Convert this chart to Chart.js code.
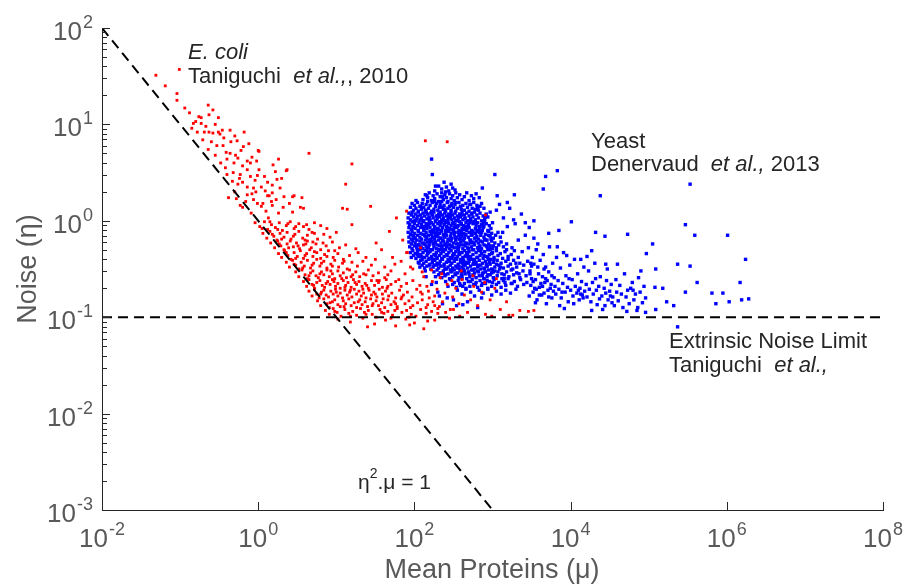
<!DOCTYPE html>
<html>
<head>
<meta charset="utf-8">
<script src="https://cdn.jsdelivr.net/npm/chart.js@4.4.1/dist/chart.umd.min.js"></script>
<style>
  html, body { margin: 0; padding: 0; background: #fff; }
  #wrap { width: 917px; height: 588px; }
</style>
</head>
<body>
<div id="wrap"><canvas id="noiseChart" width="917" height="588"></canvas></div>
<script>
// points, stored as [100*log10(mean), 100*log10(noise)]
const ecoliLog = [
  // sparse upper band
  [-131,151],[-101,157],[-119,140],[-104,132],[-104,125],[-94,117],[-64,120],[-63,110],[-76,108],[-73,107],
  [-83,101],[-73,101],[-51,107],[-85,96],[-78,92],[-69,92],[-63,92],[-58,91],[-51,92],[-46,94],
  [-36,94],[-18,92],[-71,84],[-60,82],[-53,78],[-64,74],[-55,68],[-45,78],[-35,82],[-27,83],
  [-36,70],[-29,68],[-26,65],[-19,77],[-40,64],[-42,55],[-31,60],[-14,62],[-8,66],[-22,73],
  [0,73],[26,64],[19,58],[36,52],[24,43],[65,70],[-40,48],[-32,50],[-23,48],[-24,44],
  [-14,53],[-10,46],[-4,42],[1,53],[-1,47],[-38,24],[-23,16],[-14,35],[-6,34],[4,35],
  [12,40],[14,26],[18,29],[-3,30],[-14,27],[-6,22],[-1,18],[6,18],[4,15],[12,26],
  [17,20],[23,22],[33,25],[44,25],[56,24],[18,16],[32,14],[54,14],[58,13],[18,37],
  [-20,14],[1,72],[46,26],[37,53],[108,13],[114,12],[120,-4],[144,15],[177,3],[168,-11],
  [151,-23],[190,10],[112,38],[120,59],[214,83],[242,82],[-88,112],[-55,100],[-30,88],[-48,60],
  [-10,60],[8,46],[-20,40],[-8,28],[28,34],[10,10],[-30,30],[-16,20],[40,18],[26,8],
  [-26,38],[-44,86],[-80,103],[-58,115],[-67,98],[-41,71],[-20,57],[-33,41],[9,31],[30,44],
  [-49,90],[-12,80],[-2,62],[22,51],[-28,23],[44,9],[-9,8],[13,3],
  // middle band
  [-4,-2],[2,-6],[8,-1],[12,-9],[17,-4],[22,-7],[27,-2],[31,-10],[36,-5],[41,-1],[46,-8],[52,-3],
  [58,-6],[65,-9],[72,-2],[80,-5],[5,-8],[15,-1],[25,-9],[38,-3],[48,-6],[62,-4],[88,-8],
  [6,-13],[11,-18],[15,-11],[20,-16],[24,-20],[28,-13],[33,-17],[37,-12],[42,-19],[47,-14],[52,-11],
  [57,-18],[63,-15],[69,-12],[76,-19],[84,-14],[92,-17],[18,-14],[30,-19],[45,-16],[60,-20],[72,-13],[100,-12],
  [16,-23],[21,-28],[25,-21],[29,-26],[33,-30],[37,-24],[41,-21],[45,-27],[49,-23],[53,-29],[58,-25],
  [63,-21],[68,-28],[74,-24],[80,-30],[87,-26],[95,-22],[104,-28],[27,-24],[39,-28],[51,-26],[61,-24],
  [70,-22],[83,-23],[112,-25],[125,-29],
  [26,-34],[30,-38],[34,-31],[38,-36],[42,-40],[46,-33],[50,-37],[54,-31],[58,-39],[62,-34],[66,-30],
  [70,-37],[75,-33],[80,-39],[85,-35],[90,-31],[96,-38],[102,-34],[109,-40],[117,-36],[36,-33],[48,-39],
  [60,-36],[72,-32],[88,-37],[98,-31],[128,-33],[138,-38],
  [36,-43],[40,-48],[44,-41],[48,-46],[52,-50],[55,-43],[59,-47],[63,-41],[67,-49],[71,-44],[75,-40],
  [79,-47],[84,-42],[88,-49],[93,-45],[98,-41],[103,-48],[108,-44],[114,-50],[120,-43],[127,-47],[134,-42],
  [46,-45],[57,-49],[69,-46],[81,-44],[95,-47],[110,-42],[145,-46],
  [150,-40],[162,-48],[175,-45],[188,-55],[158,-30],[172,-38],[198,-50],[183,-42],[166,-56],[155,-62],
  // dense lower band
  [48,-53],[52,-58],[56,-51],[60,-56],[63,-60],[67,-54],[70,-52],[74,-57],[77,-59],[81,-53],[84,-56],
  [88,-51],[91,-58],[95,-55],[98,-60],[102,-52],[105,-57],[109,-54],[113,-59],[117,-51],[121,-56],[125,-53],
  [130,-58],[135,-55],[141,-51],[147,-57],[154,-54],[162,-59],[170,-52],[65,-57],[79,-55],[93,-52],
  [107,-60],[119,-58],[138,-56],
  [58,-63],[62,-68],[65,-61],[69,-66],[72,-70],[75,-64],[79,-62],[82,-67],[85,-69],[89,-63],[92,-66],
  [95,-61],[99,-68],[102,-65],[105,-70],[109,-62],[112,-67],[115,-64],[119,-69],[122,-61],[126,-66],[129,-63],
  [133,-68],[137,-65],[141,-70],[145,-62],[149,-67],[154,-64],[159,-69],[164,-61],[170,-66],[176,-63],
  [183,-68],[190,-65],[198,-62],[71,-67],[87,-65],[97,-63],[111,-69],[124,-64],[139,-67],[152,-62],
  [166,-68],[180,-61],[207,-67],
  [65,-73],[69,-78],[72,-71],[75,-76],[78,-80],[81,-74],[84,-72],[87,-77],[90,-79],[93,-73],[96,-76],
  [99,-71],[102,-78],[105,-75],[108,-80],[111,-72],[114,-77],[117,-74],[120,-79],[123,-71],[126,-76],[129,-73],
  [132,-78],[135,-75],[138,-80],[142,-72],[145,-77],[148,-74],[152,-79],[155,-71],[159,-76],[163,-73],
  [167,-78],[171,-75],[176,-80],[181,-72],[186,-77],[191,-74],[197,-79],[203,-71],[210,-76],[218,-73],
  [80,-76],[100,-74],[118,-72],[134,-71],[150,-76],[165,-70],[184,-79],[226,-78],
  [76,-83],[80,-88],[84,-81],[88,-86],[91,-90],[95,-84],[98,-82],[102,-87],[105,-89],[109,-83],[112,-86],
  [116,-81],[119,-88],[123,-85],[126,-90],[130,-82],[133,-87],[137,-84],[140,-89],[144,-81],[147,-86],[151,-83],
  [154,-88],[158,-85],[162,-90],[166,-82],[170,-87],[174,-84],[178,-89],[183,-81],[188,-86],[193,-83],
  [198,-88],[204,-85],[210,-82],[217,-87],[224,-84],[232,-89],[92,-85],[110,-89],[128,-84],[146,-88],
  [160,-81],[176,-86],[195,-90],
  [86,-93],[91,-97],[96,-91],[101,-95],[106,-99],[111,-92],[116,-96],[121,-94],[126,-98],[131,-91],[136,-95],
  [141,-93],[146,-97],[151,-100],[156,-92],[161,-96],[166,-94],[172,-98],[178,-91],[184,-95],[190,-93],[196,-97],
  [202,-99],[208,-92],[215,-96],[222,-94],[98,-94],[118,-99],[138,-97],[158,-95],[175,-93],[193,-100],
  [230,-91],[240,-95],[250,-92],
  [102,-102],[118,-105],[134,-101],[149,-107],[163,-103],[176,-109],[189,-102],[200,-106],[212,-112],[226,-103],
  [140,-110],[170,-101],[194,-108],[217,-104],[245,-101],
  // right-hand extension
  [212,-58],[216,-68],[219,-80],[223,-63],[226,-88],[229,-71],[233,-59],[236,-84],[239,-75],[242,-66],
  [246,-92],[249,-79],[253,-70],[257,-86],[261,-61],[264,-77],[268,-95],[272,-82],[276,-68],[281,-88],
  [286,-74],[291,-97],[297,-82],[303,-70],[310,-92],[318,-84],[326,-98],[335,-93],[346,-94],[353,-93],
  [321,-98],[299,-99],[210,-53],[222,-51],[235,-55],[248,-62],[260,-52],[275,-57],[290,-64],[305,-60],
  [208,-74],[215,-90],[230,-96],[258,-99],[190,-33],[185,-20],[291,6],[191,-33],[208,-28],[195,-48]
];

const yeastLog = [
  // dense core, top to bottom
  [226,31],[231,36],[235,33],[238,40],[241,35],[244,31],[247,38],[249,34],[252,32],[240,30],
  [211,22],[214,27],[217,24],[219,29],[222,21],[224,26],[226,23],[229,28],[231,20],[233,25],
  [235,29],[237,22],[239,27],[241,24],[243,20],[245,28],[247,23],[249,26],[251,21],[253,29],
  [255,24],[258,27],[261,22],[264,25],[267,29],[270,21],[273,26],[276,23],[279,28],[283,24],
  [195,14],[197,18],[199,11],[200,16],[202,13],[204,19],[205,10],[207,15],[209,12],[210,18],
  [212,14],[214,11],[215,17],[217,20],[218,13],[220,16],[222,10],[223,19],[225,12],[227,15],
  [228,18],[230,11],[232,14],[233,17],[235,20],[237,12],[238,16],[240,10],[242,19],[243,13],
  [245,15],[247,11],[248,18],[250,14],[252,17],[253,10],[255,13],[257,19],[259,15],[260,12],
  [262,16],[264,11],[266,18],[268,14],[270,10],[272,17],[274,13],[276,19],[278,12],[280,16],
  [282,11],[284,15],[286,18],[289,13],[236,14],
  [192,3],[193,8],[195,1],[196,6],[197,9],[199,4],[200,0],[201,7],[203,2],[204,5],
  [205,9],[207,1],[208,6],[209,3],[211,8],[212,0],[213,5],[215,9],[216,2],[217,7],
  [219,4],[220,1],[221,8],[223,6],[224,3],[225,9],[227,0],[228,5],[229,2],[231,7],
  [232,4],[233,9],[235,1],[236,6],[237,3],[239,8],[240,0],[241,5],[243,2],[244,7],
  [245,4],[247,9],[248,1],[249,6],[251,3],[252,8],[253,0],[255,5],[256,2],[258,7],
  [259,4],[261,9],[262,1],[264,6],[265,3],[267,8],[268,0],[270,5],[272,2],[273,7],
  [275,4],[277,9],[278,1],[280,6],[282,3],[284,8],[286,0],[288,5],[290,2],[292,7],
  [294,4],[297,9],[230,5],[246,3],[260,6],
  [192,-2],[193,-7],[194,-4],[196,-9],[197,-1],[198,-6],[200,-3],[201,-8],[202,0],[204,-5],
  [205,-10],[206,-2],[208,-7],[209,-4],[211,-1],[212,-9],[213,-6],[215,-3],[216,-8],[217,-5],
  [219,0],[220,-7],[222,-2],[223,-10],[224,-4],[226,-6],[227,-1],[229,-8],[230,-3],[231,-9],
  [233,-5],[234,-2],[236,-7],[237,0],[238,-4],[240,-10],[241,-6],[243,-1],[244,-3],[245,-8],
  [247,-5],[248,-9],[250,-2],[251,-7],[252,-4],[254,0],[255,-6],[257,-10],[258,-1],[260,-3],
  [261,-8],[263,-5],[264,-9],[266,-2],[267,-6],[269,-4],[270,-7],[272,0],[273,-10],[275,-3],
  [276,-1],[278,-8],[279,-5],[281,-2],[283,-9],[284,-6],[286,-4],[288,-7],[290,-1],[292,-3],
  [294,-10],[296,-5],[298,-8],[300,-2],[210,-6],[218,-4],[225,-9],[235,-1],[242,-7],[249,-3],
  [256,-5],[265,-8],[271,-2],[280,-10],[289,-6],
  [192,-12],[193,-17],[195,-14],[196,-19],[197,-11],[199,-16],[200,-13],[201,-18],[203,-20],[204,-15],
  [205,-11],[207,-17],[208,-13],[209,-19],[211,-14],[212,-10],[214,-16],[215,-12],[216,-18],[218,-15],
  [219,-20],[220,-11],[222,-14],[223,-17],[225,-12],[226,-19],[227,-15],[229,-10],[230,-16],[232,-13],
  [233,-18],[234,-11],[236,-20],[237,-14],[239,-17],[240,-12],[241,-15],[243,-19],[244,-11],[246,-16],
  [247,-13],[248,-18],[250,-10],[251,-14],[253,-20],[254,-17],[256,-12],[257,-15],[258,-19],[260,-11],
  [261,-16],[263,-13],[264,-18],[266,-14],[267,-10],[269,-17],[270,-12],[272,-20],[273,-15],[275,-11],
  [277,-18],[278,-13],[280,-16],[282,-19],[283,-12],[285,-15],[287,-10],[289,-17],[291,-14],[293,-20],
  [295,-11],[297,-16],[299,-13],[301,-18],[304,-15],[307,-12],[310,-17],[213,-15],[221,-19],[228,-13],
  [238,-16],[245,-20],[252,-12],[259,-18],[265,-15],[274,-14],[281,-11],[290,-19],[198,-15],[235,-10],
  [193,-22],[194,-27],[196,-24],[197,-29],[198,-21],[200,-26],[201,-23],[203,-28],[204,-30],[205,-25],
  [207,-21],[208,-27],[210,-23],[211,-29],[212,-24],[214,-20],[215,-26],[217,-22],[218,-28],[219,-25],
  [221,-30],[222,-21],[224,-24],[225,-27],[227,-22],[228,-29],[229,-25],[231,-20],[232,-26],[234,-23],
  [235,-28],[237,-21],[238,-30],[239,-24],[241,-27],[242,-22],[244,-25],[245,-29],[247,-21],[248,-26],
  [250,-23],[251,-28],[253,-20],[254,-24],[256,-30],[257,-27],[259,-22],[260,-25],[262,-29],[263,-21],
  [265,-26],[266,-23],[268,-28],[269,-24],[271,-20],[273,-27],[274,-22],[276,-30],[277,-25],[279,-21],
  [281,-28],[282,-23],[284,-26],[286,-29],[287,-22],[289,-25],[291,-20],[293,-27],[295,-24],[297,-30],
  [299,-21],[301,-26],[303,-23],[305,-28],[308,-25],[311,-22],[314,-27],[318,-24],[206,-25],[216,-29],
  [226,-23],[236,-26],[246,-20],[255,-28],[264,-25],[272,-23],[283,-30],[292,-26],[300,-29],[240,-25],
  [195,-33],[196,-38],[198,-31],[199,-36],[201,-34],[202,-39],[204,-32],[205,-37],[207,-30],[208,-35],
  [210,-40],[211,-33],[213,-38],[214,-31],[216,-36],[217,-34],[219,-39],[220,-32],[222,-37],[223,-30],
  [225,-35],[226,-40],[228,-33],[229,-38],[231,-31],[232,-36],[234,-34],[235,-39],[237,-32],[238,-37],
  [240,-30],[241,-35],[243,-40],[244,-33],[246,-38],[247,-31],[249,-36],[250,-34],[252,-39],[253,-32],
  [255,-37],[256,-30],[258,-35],[259,-40],[261,-33],[262,-38],[264,-31],[266,-36],[267,-34],[269,-39],
  [270,-32],[272,-37],[274,-30],[275,-35],[277,-40],[279,-33],[280,-38],[282,-31],[284,-36],[286,-34],
  [288,-39],[290,-32],[292,-37],[294,-30],[296,-35],[298,-40],[300,-33],[302,-38],[305,-31],[307,-36],
  [310,-34],[313,-39],[316,-32],[320,-37],[324,-35],[328,-31],[333,-38],[209,-37],[218,-33],[227,-36],
  [236,-31],[248,-39],[257,-34],[268,-36],[285,-31],
  [205,-43],[207,-48],[208,-41],[210,-46],[212,-44],[213,-49],[215,-42],[216,-47],[218,-40],[220,-45],
  [221,-50],[223,-43],[224,-48],[226,-41],[228,-46],[229,-44],[231,-49],[233,-42],[234,-47],[236,-40],
  [238,-45],[239,-50],[241,-43],[243,-48],[244,-41],[246,-46],[248,-44],[249,-49],[251,-42],[253,-47],
  [254,-40],[256,-45],[258,-50],[259,-43],[261,-48],[263,-41],[265,-46],[266,-44],[268,-49],[270,-42],
  [272,-47],[273,-40],[275,-45],[277,-50],[279,-43],[281,-48],[283,-41],[285,-46],[287,-44],[289,-49],
  [291,-42],[293,-47],[295,-40],[297,-45],[299,-50],[301,-43],[303,-48],[306,-41],[308,-46],[311,-44],
  [314,-49],[317,-42],[320,-47],[323,-45],[327,-41],[331,-48],[335,-44],[340,-46],[345,-42],[350,-47],
  [232,-45],[245,-42],[257,-47],[269,-44],[282,-46],[296,-43],[219,-46],[262,-44],[276,-42],[292,-45],
  [225,-53],[227,-58],[229,-51],[231,-56],[233,-54],[235,-59],[237,-52],[239,-57],[241,-50],[243,-55],
  [245,-60],[247,-53],[249,-58],[251,-51],[253,-56],[255,-54],[257,-59],[259,-52],[261,-57],[263,-50],
  [265,-55],[267,-60],[269,-53],[271,-58],[273,-51],[275,-56],[277,-54],[279,-59],[281,-52],[283,-57],
  [285,-50],[287,-55],[289,-60],[291,-53],[293,-58],[295,-51],[297,-56],[299,-54],[301,-59],[303,-52],
  [306,-57],[309,-50],[312,-55],[315,-60],[318,-53],[321,-58],[324,-51],[327,-56],[331,-54],[335,-59],
  [339,-52],[343,-57],[348,-55],[252,-55],[264,-52],[276,-57],[288,-54],[300,-51],[240,-56],[270,-55],
  [282,-53],[294,-56],[307,-53],[260,-56],[246,-51],
  [240,-63],[243,-68],[246,-61],[249,-66],[251,-64],[254,-69],[256,-62],[259,-67],[261,-60],[264,-65],
  [266,-70],[269,-63],[271,-68],[274,-61],[276,-66],[279,-64],[281,-69],[284,-62],[286,-67],[289,-60],
  [291,-65],[294,-70],[296,-63],[299,-68],[302,-61],[305,-66],[308,-64],[311,-69],[314,-62],[317,-67],
  [320,-60],[324,-65],[328,-63],[332,-68],[336,-61],[340,-66],[344,-64],[258,-65],[272,-63],[287,-65],
  [300,-64],[316,-64],[262,-68],[278,-66],[293,-62],
  [255,-72],[261,-76],[266,-71],[272,-74],[277,-78],[283,-72],[288,-75],[294,-71],[299,-77],[305,-73],
  [311,-76],[317,-72],[323,-75],[330,-71],[286,-80],
  // extra core points filling gaps
  [202,21],[218,3],[234,-18],[251,-35],[267,-8],[283,-27],[206,-44],[222,-13],[239,12],[255,-49],
  [271,17],[288,-3],[213,-24],[229,-39],[246,6],[262,-20],[278,-45],[295,-15],[199,-7],[215,9],
  [232,-30],[248,-52],[264,2],[281,-38],[297,-26],[208,15],[225,-46],[241,-10],[258,-33],[274,8],
  [290,-50],[204,-35],[220,-22],[237,-54],[253,19],[269,-29],[286,-12],[302,-40],[211,0],[227,-16],
  [244,-41],[260,-4],[276,-23],[293,-47],[216,26],[232,-1],[249,-27],[265,-37],[281,14],[298,-19],
  [200,-18],[217,-32],[233,7],[250,-11],[266,-43],[283,-6],[299,-34],[209,-28],[226,20],[242,-36],
  [259,-14],[275,-51],[291,4],[223,-40],[240,-2],[256,-24],[273,-13],[289,-36],[305,-45],[214,-52],
  [230,-8],[247,16],[263,-46],[279,-17],[296,-29],[236,25],[252,-17],[268,-33],[285,-21],[301,-53],
  [219,-3],[203,-26],[238,-47],[254,-7],[270,-38],[287,-57],[245,-25],[261,-53],[277,-2],[294,-38],
  [310,-48],[315,-56],[320,-40],[326,-50],[318,-30],[330,-44],[312,-60],[325,-65],[334,-55],
  // fringe around the core
  [222,64],[223,48],[227,36],[303,48],[287,34],[328,27],[306,26],[319,19],[309,17],[322,13],
  [305,11],[337,7],[327,1],[329,-3],[342,-2],[347,-7],[353,0],[314,3],[319,-6],[313,-12],
  [342,-15],[333,-20],[353,-18],[358,-24],[325,-28],[338,-32],
  [228,-64],[232,-78],[236,-86],[250,-82],[262,-87],[215,-58],[222,-66],[230,-74],[242,-80],[254,-88],
  [268,-84],[281,-90],
  // tail towards high expression
  [346,-28],[348,-52],[349,-67],[351,-38],[352,-74],[353,-45],[355,-61],[356,-30],[357,-82],[359,-55],
  [360,-69],[361,-41],[363,-77],[364,-58],[365,-35],[367,-64],[368,-48],[369,-86],[371,-72],[372,-53],
  [373,-27],[375,-66],[376,-80],[377,-44],[379,-59],[350,-60],[354,-70],[358,-48],[362,-65],[366,-75],
  [370,-62],[374,-70],[378,-73],[347,-78],[349,-44],[352,-63],[356,-71],[360,-77],[364,-68],[368,-60],
  [372,-79],[376,-57],[380,-68],[366,-50],[355,-85],
  [381,-76],[382,-38],[384,-62],[385,-71],[387,-49],[388,-80],[390,-65],[391,-33],[393,-74],[394,-57],
  [396,-69],[397,-84],[399,-46],[400,-72],[402,-61],[403,-78],[405,-40],[406,-68],[408,-75],[409,-55],
  [411,-82],[412,-70],[414,-63],[415,-77],[417,-48],[418,-73],[420,-66],[386,-88],[392,-91],[398,-60],
  [404,-86],[410,-72],[416,-80],[389,-74],[413,-76],
  [421,-79],[423,-52],[424,-71],[426,-84],[428,-64],[429,-76],[431,-44],[433,-72],[434,-87],[436,-68],
  [438,-58],[440,-78],[441,-92],[443,-70],[445,-75],[447,-50],[448,-82],[450,-73],[452,-66],[454,-79],
  [456,-88],[458,-61],[459,-74],[427,-93],[437,-81],[446,-62],[453,-85],[432,-60],[444,-88],[451,-78],
  [461,-83],[463,-67],[465,-76],[467,-90],[469,-55],[471,-79],[473,-72],[475,-86],[477,-70],[479,-64],
  [481,-82],[483,-76],[485,-93],[487,-59],[489,-74],[492,-85],[494,-68],[496,-80],[472,-94],[480,-72],
  // scattered outliers
  [365,33],[368,46],[383,52],[438,26],[432,-12],[444,-16],[473,-14],[505,-24],[497,-34],[385,-10],
  [401,-1],[372,-13],[383,-27],[427,-31],[421,-37],[395,-36],[413,-40],[445,-45],[460,-45],[490,-52],
  [509,-50],[508,-69],[518,-70],[537,-45],[553,-47],[562,-64],[547,-74],[523,-84],[532,-88],[509,-92],
  [581,-75],[595,-75],[586,-86],[603,-84],[617,-64],[619,-82],[628,-81],[624,-40],[601,-15],[559,-15],
  [547,-4],[553,38],[537,-110],[496,-95],[486,-90]
];

// reference lines
const unityMean = [0.01, 1000];
const unityNoise = [100, 0.001];
const extrinsicMean = [0.01, 1e8];
const extrinsicNoise = [0.1, 0.1];

// axis decades that carry labels
const xDecades = [-2, 0, 2, 4, 6, 8];
const yDecades = [-3, -2, -1, 0, 1, 2];

const FONT = "'Liberation Sans', Arial, Helvetica, sans-serif";
const AXIS_COLOR = '#262626';
const LABEL_COLOR = '#595959';
const TEXT_COLOR = '#262626';

const toPoint = ([a, b]) => ({ x: Math.pow(10, a / 100), y: Math.pow(10, b / 100) });
const zipLine = (xs, ys) => xs.map((x, i) => ({ x, y: ys[i] }));

// draws a run of [text, italic] pieces from a left edge
function drawRuns(ctx, runs, x, y, size) {
  let cx = x;
  runs.forEach(([txt, italic]) => {
    ctx.font = (italic ? 'italic ' : '') + size + 'px ' + FONT;
    ctx.fillText(txt, cx, y);
    cx += ctx.measureText(txt).width;
  });
}

function powerLabel(ctx, exp, x, y, align) {
  const base = '10', sup = String(exp);
  ctx.font = '26px ' + FONT;
  const wb = ctx.measureText(base).width;
  ctx.font = '18px ' + FONT;
  const ws = ctx.measureText(sup).width;
  const left = align === 'right' ? x - wb - ws - 1 : x - (wb + ws + 1) / 2;
  ctx.textAlign = 'left';
  ctx.textBaseline = 'alphabetic';
  ctx.font = '26px ' + FONT;
  ctx.fillText(base, left, y);
  ctx.font = '18px ' + FONT;
  ctx.fillText(sup, left + wb + 1, y - 12);
}

const axesPlugin = {
  id: 'matlabAxes',
  afterDraw(chart) {
    const { ctx, chartArea, scales } = chart;
    const xs = scales.x, ys = scales.y;
    ctx.save();
    ctx.strokeStyle = AXIS_COLOR;
    ctx.lineWidth = 1;
    ctx.beginPath();
    // y ticks, major and minor, pointing inward
    for (let e = -3; e <= 2; e++) {
      for (let m = 1; m <= 9; m++) {
        if (e === 2 && m > 1) break;
        const py = Math.round(ys.getPixelForValue(m * Math.pow(10, e))) + 0.5;
        const len = m === 1 ? 8 : 5;
        ctx.moveTo(chartArea.left, py);
        ctx.lineTo(chartArea.left + len, py);
      }
    }
    // x ticks at labelled decades
    xDecades.forEach(d => {
      const px = Math.round(xs.getPixelForValue(Math.pow(10, d))) + 0.5;
      ctx.moveTo(px, chartArea.bottom);
      ctx.lineTo(px, chartArea.bottom - 8);
    });
    ctx.stroke();

    ctx.fillStyle = LABEL_COLOR;
    yDecades.forEach(d => {
      const py = ys.getPixelForValue(Math.pow(10, d));
      powerLabel(ctx, d, 93, py + 12, 'right');
    });
    xDecades.forEach(d => {
      const px = xs.getPixelForValue(Math.pow(10, d));
      powerLabel(ctx, d, px, 547, 'center');
    });

    // axis titles
    ctx.font = '27px ' + FONT;
    ctx.textAlign = 'center';
    ctx.fillText('Mean Proteins (\u03bc)', 492, 578);
    ctx.save();
    ctx.translate(36, 269);
    ctx.rotate(-Math.PI / 2);
    ctx.fillText('Noise (\u03b7)', 0, 0);
    ctx.restore();

    // annotations
    ctx.textAlign = 'left';
    ctx.fillStyle = TEXT_COLOR;
    drawRuns(ctx, [['E. coli', true]], 188, 59, 22);
    drawRuns(ctx, [['Taniguchi  ', false], ['et al.,', true], [', 2010', false]], 188, 83, 22);
    drawRuns(ctx, [['Yeast', false]], 591, 148, 22);
    drawRuns(ctx, [['Denervaud  ', false], ['et al.,', true], [' 2013', false]], 591, 171, 22);
    drawRuns(ctx, [['Extrinsic Noise Limit', false]], 669, 348, 22);
    drawRuns(ctx, [['Taniguchi  ', false], ['et al.,', true]], 669, 372, 22);

    ctx.font = '21px ' + FONT;
    ctx.fillText('\u03b7', 358, 489);
    const we = ctx.measureText('\u03b7').width;
    ctx.font = '14px ' + FONT;
    ctx.fillText('2', 358 + we, 478);
    const w2 = ctx.measureText('2').width;
    ctx.font = '21px ' + FONT;
    ctx.fillText('.\u03bc = 1', 358 + we + w2, 489);
    ctx.restore();
  }
};

const noScaleSpace = scale => { if (scale.isHorizontal()) scale.height = 0; else scale.width = 0; };

new Chart(document.getElementById('noiseChart'), {
  type: 'scatter',
  data: {
    datasets: [
      {
        label: 'eta^2 mu = 1',
        type: 'line',
        data: zipLine(unityMean, unityNoise),
        borderColor: '#000',
        borderWidth: 2,
        borderDash: [10, 6],
        pointRadius: 0,
        fill: false
      },
      {
        label: 'Extrinsic noise limit',
        type: 'line',
        data: zipLine(extrinsicMean, extrinsicNoise),
        borderColor: '#000',
        borderWidth: 2,
        borderDash: [10, 6],
        pointRadius: 0,
        fill: false
      },
      {
        label: 'E. coli',
        data: ecoliLog.map(toPoint),
        pointStyle: 'rect',
        pointRadius: 2.0,
        pointBorderWidth: 0,
        backgroundColor: '#ff0000',
        borderColor: '#ff0000'
      },
      {
        label: 'Yeast',
        data: yeastLog.map(toPoint),
        pointStyle: 'rect',
        pointRadius: 2.4,
        pointBorderWidth: 0,
        backgroundColor: '#0000ff',
        borderColor: '#0000ff'
      }
    ]
  },
  options: {
    responsive: false,
    animation: false,
    layout: { padding: { left: 102, top: 28, right: 34, bottom: 78 } },
    plugins: { legend: { display: false }, tooltip: { enabled: false } },
    scales: {
      x: {
        type: 'logarithmic',
        min: 0.01,
        max: 1e8,
        grid: { display: false, drawTicks: false },
        border: { display: true, color: AXIS_COLOR, width: 1 },
        ticks: { display: false },
        afterFit: noScaleSpace
      },
      y: {
        type: 'logarithmic',
        min: 0.001,
        max: 100,
        grid: { display: false, drawTicks: false },
        border: { display: true, color: AXIS_COLOR, width: 1 },
        ticks: { display: false },
        afterFit: noScaleSpace
      }
    }
  },
  plugins: [axesPlugin]
});
</script>
</body>
</html>
